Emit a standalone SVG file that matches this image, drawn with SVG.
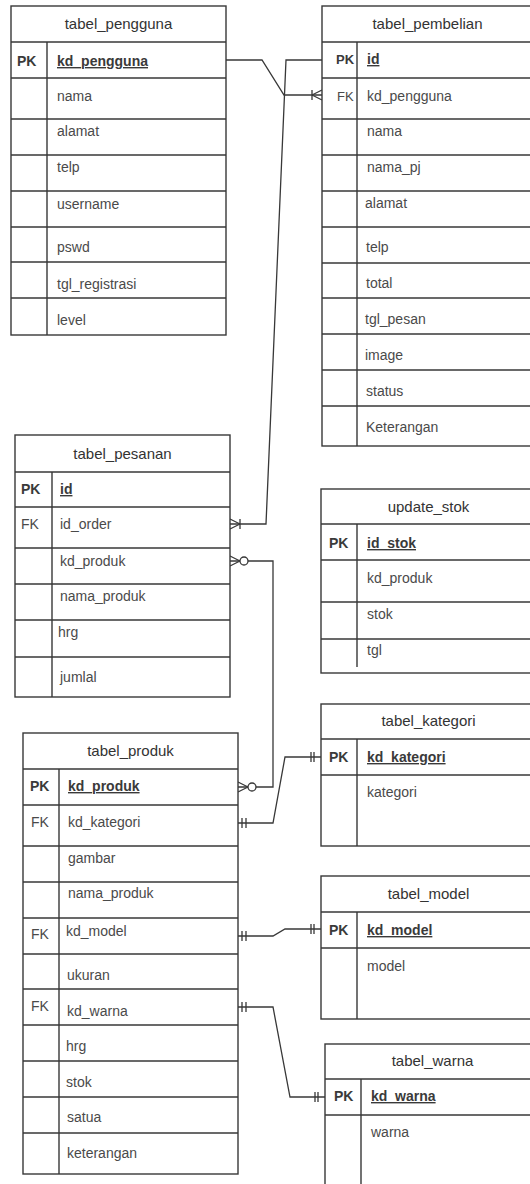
<svg xmlns="http://www.w3.org/2000/svg" width="530" height="1184" viewBox="0 0 530 1184">
<style>
.box{fill:#fff;stroke:#383838;stroke-width:1.4}
.ln{fill:none;stroke:#383838;stroke-width:1.4}
.hd{font-family:"Liberation Sans",Arial,sans-serif;font-size:15px;fill:#333;text-anchor:middle}
.f{font-family:"Liberation Sans",Arial,sans-serif;font-size:14px;fill:#4a4a4a}
.key{font-family:"Liberation Sans",Arial,sans-serif;font-size:14px;font-weight:bold;fill:#3a3a3a;text-decoration:underline}
.pk{font-family:"Liberation Sans",Arial,sans-serif;font-size:14px;font-weight:bold;fill:#3a3a3a}
.fk{font-family:"Liberation Sans",Arial,sans-serif;font-size:14px;fill:#4a4a4a}
.con{fill:none;stroke:#383838;stroke-width:1.3}
.mk{fill:none;stroke:#383838;stroke-width:1.3}
</style>
<defs>
<marker id="mandMany" markerUnits="userSpaceOnUse" viewBox="-20 -10 24 20" markerWidth="24" markerHeight="20" refX="0" refY="0" orient="auto" overflow="visible"><path class="mk" d="M-10,-5V5M-10,0L0,-5M-10,0L0,5"/></marker>
<marker id="zeroMany" markerUnits="userSpaceOnUse" viewBox="-20 -10 24 20" markerWidth="24" markerHeight="20" refX="0" refY="0" orient="auto-start-reverse" overflow="visible"><path class="mk" d="M-10,0L0,-5M-10,0L0,5"/><circle cx="-14" cy="0" r="4" fill="#fff" stroke="#383838" stroke-width="1.3"/></marker>
<marker id="mandOne" markerUnits="userSpaceOnUse" viewBox="-20 -10 24 20" markerWidth="24" markerHeight="20" refX="0" refY="0" orient="auto" overflow="visible"><path class="mk" d="M-7,-5V5M-10,-5V5"/></marker>
<marker id="mandOneNear" markerUnits="userSpaceOnUse" viewBox="-20 -10 24 20" markerWidth="24" markerHeight="20" refX="0" refY="0" orient="auto-start-reverse" overflow="visible"><path class="mk" d="M-4,-5V5M-8,-5V5"/></marker>
</defs>

<g id="connectors">
<path class="con" d="M226,60H262L284,95H322" marker-end="url(#mandMany)"/>
<path class="con" d="M322,60H286L266,524H230" marker-end="url(#mandMany)"/>
<path class="con" d="M230,561H273V787H238" marker-start="url(#zeroMany)" marker-end="url(#zeroMany)"/>
<path class="con" d="M238,823H273L285,757H321" marker-start="url(#mandOneNear)" marker-end="url(#mandOne)"/>
<path class="con" d="M238,936H273L285,929H321" marker-start="url(#mandOneNear)" marker-end="url(#mandOne)"/>
<path class="con" d="M238,1007H273L290,1097H325" marker-start="url(#mandOneNear)" marker-end="url(#mandOne)"/>
</g>

<g id="tabel_pengguna">
<rect class="box" x="11" y="6" width="215" height="329"/>
<path class="ln" d="M11,42H226M11,78H226M11,119H226M11,155H226M11,191H226M11,227H226M11,262H226M11,298H226M47,42V335"/>
<text class="hd" x="118.5" y="29">tabel_pengguna</text>
<text class="pk" x="17" y="66">PK</text>
<text class="key" x="57" y="66">kd_pengguna</text>
<text class="f" x="57" y="101">nama</text>
<text class="f" x="57" y="136">alamat</text>
<text class="f" x="57" y="172">telp</text>
<text class="f" x="57" y="209">username</text>
<text class="f" x="57" y="252">pswd</text>
<text class="f" x="57" y="289">tgl_registrasi</text>
<text class="f" x="57" y="325">level</text>
</g>

<g id="tabel_pembelian">
<rect class="box" x="322" y="6" width="214" height="440"/>
<path class="ln" d="M322,42H536M322,78H536M322,119H536M322,155H536M322,191H536M322,227H536M322,263H536M322,298H536M322,334H536M322,370H536M322,406H536M357,42V446"/>
<text class="hd" x="427.5" y="29">tabel_pembelian</text>
<text class="pk" x="336" y="64" style="font-size:13px">PK</text>
<text class="key" x="367" y="64">id</text>
<text class="fk" x="337" y="101" style="font-size:13px">FK</text>
<text class="f" x="367" y="101">kd_pengguna</text>
<text class="f" x="367" y="136">nama</text>
<text class="f" x="367" y="172">nama_pj</text>
<text class="f" x="365" y="208">alamat</text>
<text class="f" x="366" y="252">telp</text>
<text class="f" x="366" y="288">total</text>
<text class="f" x="365" y="324">tgl_pesan</text>
<text class="f" x="365" y="360">image</text>
<text class="f" x="366" y="396">status</text>
<text class="f" x="366" y="432">Keterangan</text>
</g>

<g id="tabel_pesanan">
<rect class="box" x="15" y="435" width="215" height="262"/>
<path class="ln" d="M15,472H230M15,507H230M15,548H230M15,584H230M15,620H230M15,657H230M52,472V697"/>
<text class="hd" x="122.5" y="459">tabel_pesanan</text>
<text class="pk" x="21" y="494">PK</text>
<text class="key" x="60" y="494">id</text>
<text class="fk" x="21" y="529">FK</text>
<text class="f" x="60" y="529">id_order</text>
<text class="f" x="60" y="566">kd_produk</text>
<text class="f" x="60" y="601">nama_produk</text>
<text class="f" x="58" y="637">hrg</text>
<text class="f" x="60" y="682">jumlal</text>
</g>

<g id="update_stok">
<rect class="box" x="321" y="489" width="215" height="184"/>
<path class="ln" d="M321,524H536M321,560H536M321,602H536M321,639H536M357,524V667"/>
<text class="hd" x="428.5" y="512">update_stok</text>
<text class="pk" x="329" y="548">PK</text>
<text class="key" x="367" y="548">id_stok</text>
<text class="f" x="367" y="583">kd_produk</text>
<text class="f" x="367" y="619">stok</text>
<text class="f" x="367" y="655">tgl</text>
</g>

<g id="tabel_kategori">
<rect class="box" x="321" y="704" width="215" height="142"/>
<path class="ln" d="M321,739H536M321,775H536M357,739V846"/>
<text class="hd" x="428.5" y="726">tabel_kategori</text>
<text class="pk" x="329" y="762">PK</text>
<text class="key" x="367" y="762">kd_kategori</text>
<text class="f" x="367" y="797">kategori</text>
</g>

<g id="tabel_produk">
<rect class="box" x="23" y="733" width="215" height="441"/>
<path class="ln" d="M23,769H238M23,805H238M23,846H238M23,882H238M23,918H238M23,954H238M23,989H238M23,1025H238M23,1061H238M23,1097H238M23,1133H238M59,769V1174"/>
<text class="hd" x="130.5" y="756">tabel_produk</text>
<text class="pk" x="30" y="791">PK</text>
<text class="key" x="68" y="791">kd_produk</text>
<text class="fk" x="31" y="827">FK</text>
<text class="f" x="68" y="827">kd_kategori</text>
<text class="f" x="68" y="863">gambar</text>
<text class="f" x="68" y="898">nama_produk</text>
<text class="fk" x="31" y="939">FK</text>
<text class="f" x="66" y="936">kd_model</text>
<text class="f" x="67" y="980">ukuran</text>
<text class="fk" x="31" y="1011">FK</text>
<text class="f" x="67" y="1016">kd_warna</text>
<text class="f" x="66" y="1051">hrg</text>
<text class="f" x="66" y="1087">stok</text>
<text class="f" x="67" y="1122">satua</text>
<text class="f" x="67" y="1158">keterangan</text>
</g>

<g id="tabel_model">
<rect class="box" x="321" y="876" width="215" height="143"/>
<path class="ln" d="M321,912H536M321,948H536M357,912V1019"/>
<text class="hd" x="428.5" y="899">tabel_model</text>
<text class="pk" x="329" y="935">PK</text>
<text class="key" x="367" y="935">kd_model</text>
<text class="f" x="367" y="971">model</text>
</g>

<g id="tabel_warna">
<rect class="box" x="325" y="1044" width="211" height="150"/>
<path class="ln" d="M325,1079H536M325,1115H536M361,1079V1194"/>
<text class="hd" x="432.5" y="1066">tabel_warna</text>
<text class="pk" x="334" y="1101">PK</text>
<text class="key" x="371" y="1101">kd_warna</text>
<text class="f" x="371" y="1137">warna</text>
</g>
</svg>
